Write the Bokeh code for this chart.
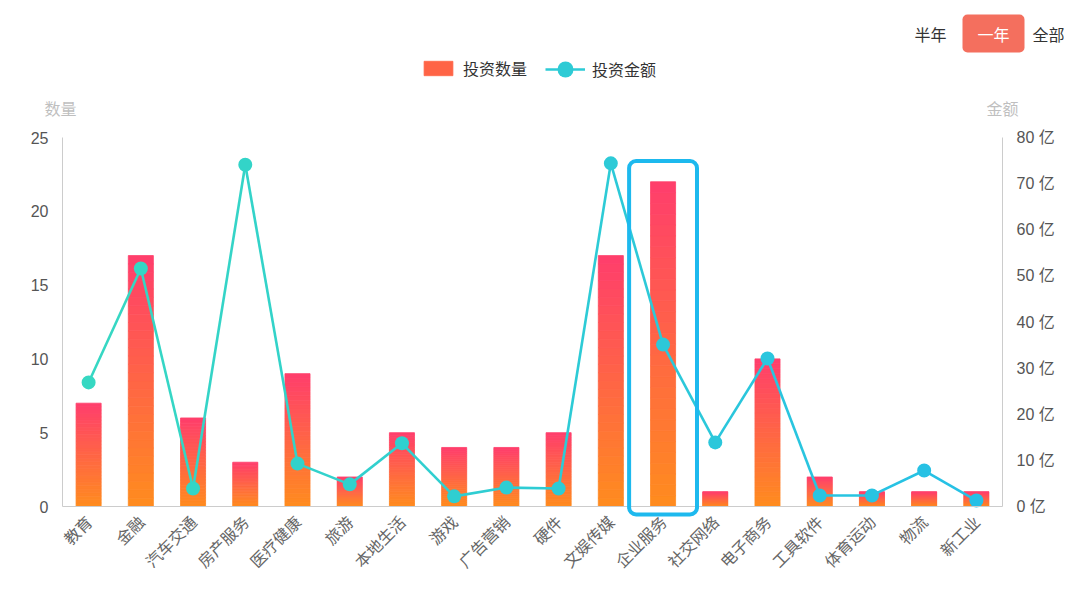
import math
from bokeh.plotting import figure
from bokeh.models import (Range1d, LinearAxis, FixedTicker, Label, BoxAnnotation,
                          Legend, LegendItem)
from bokeh.embed import file_html
from bokeh.resources import INLINE

categories = ["教育", "金融", "汽车交通", "房产服务", "医疗健康", "旅游", "本地生活", "游戏",
              "广告营销", "硬件", "文娱传媒", "企业服务", "社交网络", "电子商务", "工具软件",
              "体育运动", "物流", "新工业"]
counts = [7, 17, 6, 3, 9, 2, 5, 4, 4, 5, 17, 22, 1, 10, 2, 1, 1, 1]
amounts = [26.9, 51.6, 3.9, 74.1, 9.3, 4.8, 13.7, 2.2, 4.1, 3.9, 74.4, 35.1, 13.9, 32.1,
           2.4, 2.4, 7.8, 1.3]
count_ticks = [0, 5, 10, 15, 20, 25]
amount_ticks = [0, 10, 20, 30, 40, 50, 60, 70, 80]
amount_tick_labels = ["0 亿", "10 亿", "20 亿", "30 亿", "40 亿", "50 亿", "60 亿", "70 亿", "80 亿"]
series_names = ["投资数量", "投资金额"]
axis_names = ["数量", "金额"]
periods = ["半年", "一年", "全部"]
highlight = "企业服务"

FONT = "Noto Sans CJK SC"
NUM_FONT = "'Liberation Sans', 'Noto Sans CJK SC'"
W, H = 1064, 575
# plot area (axes box) in page pixels
PL, PR, PT, PB = 62, 1002, 137, 506
CMAX, AMAX = 25, 80


def hx(c):
    return tuple(int(c[i:i + 2], 16) for i in (1, 3, 5))


def lerp(c1, c2, t):
    a, b = hx(c1), hx(c2)
    return "#%02x%02x%02x" % tuple(round(a[i] + (b[i] - a[i]) * t) for i in range(3))


BAR_BOT, BAR_TOP = "#ff8c1e", "#ff3e6c"
LINE_L, LINE_R = "#36d8c2", "#26c0e6"

ncat = len(categories)
cat_px = (PR - PL) / ncat
cnt_px = (PB - PT) / CMAX
pad = PL / cat_px  # categories of padding each side

y0 = -(H - PB) / cnt_px
y1 = CMAX + PT / cnt_px
k_amt = AMAX / CMAX

p = figure(x_range=categories, y_range=Range1d(y0, y1), width=W, height=H,
           output_backend="svg", toolbar_location=None, min_border=0)
p.x_range.range_padding = 2 * pad / ncat
p.x_range.range_padding_units = "percent"
p.outline_line_color = None
p.xgrid.grid_line_color = None
p.ygrid.grid_line_color = None
p.extra_y_ranges = {"amt": Range1d(y0 * k_amt, y1 * k_amt)}


def sx(px):  # page x -> synthetic category coordinate
    return (px - PL) / cat_px


def sy(py):  # page y -> count coordinate
    return (PB - py) / cnt_px


# gradient bars built from slices
N = 30
bx, bb, bt, bc = [], [], [], []
for c, v in zip(categories, counts):
    for k in range(N):
        bx.append(c)
        bb.append(v * k / N)
        bt.append(v * (k + 1) / N)
        bc.append(lerp(BAR_BOT, BAR_TOP, (k + 0.5) / N))
bars = p.vbar(x=bx, bottom=bb, top=bt, width=0.48, fill_color=bc, line_color=bc,
              line_width=0.8)

# line with horizontal gradient
xs, ys, lc = [], [], []
for i in range(ncat - 1):
    xs.append([categories[i], categories[i + 1]])
    ys.append([amounts[i], amounts[i + 1]])
    lc.append(lerp(LINE_L, LINE_R, (i + 0.5) / (ncat - 1)))
line = p.multi_line(xs=xs, ys=ys, line_color=lc, line_width=2.6, y_range_name="amt")
mc = [lerp(LINE_L, LINE_R, i / (ncat - 1)) for i in range(ncat)]
marks = p.scatter(x=categories, y=amounts, size=14, fill_color=mc, line_color=None,
                  y_range_name="amt")

# highlight box
hi = categories.index(highlight) + 0.5
p.add_layout(BoxAnnotation(left=hi - 0.65, right=hi + 0.65, top=23.4, bottom=sy(514),
                           fill_alpha=0, line_color="#1db9ee", line_alpha=1, line_width=4,
                           border_radius=7))

# axes at fixed positions inside the full-size frame
ya = p.yaxis[0]
ya.ticker = FixedTicker(ticks=count_ticks)
ya.fixed_location = 0
ya.bounds = (0, CMAX)
ax_r = LinearAxis(y_range_name="amt", ticker=FixedTicker(ticks=amount_ticks))
ax_r.major_label_overrides = {t: l for t, l in zip(amount_ticks, amount_tick_labels)}
ax_r.fixed_location = ncat
ax_r.bounds = (0, AMAX)
p.add_layout(ax_r, "right")

for ax in (ya, ax_r):
    ax.axis_line_color = "#cccccc"
    ax.major_tick_line_color = None
    ax.minor_tick_line_color = None
    ax.major_label_text_color = "#555555"
    ax.major_label_text_font = NUM_FONT
    ax.major_label_text_font_size = "16px"
    ax.major_label_standoff = 8

xa = p.xaxis[0]
xa.fixed_location = 0
xa.bounds = (0, ncat)
xa.axis_line_color = "#cccccc"
xa.major_tick_line_color = None
xa.minor_tick_line_color = None
xa.major_label_orientation = math.pi / 4
xa.major_label_text_color = "#666666"
xa.major_label_text_font = FONT
xa.major_label_text_font_size = "16px"
xa.major_label_standoff = 6

# axis names
for txt, x in zip(axis_names, [60, 1002]):
    p.add_layout(Label(x=sx(x), y=sy(107), text=txt, text_align="center",
                       text_baseline="middle", text_color="#bfbfbf", text_font=FONT,
                       text_font_size="16px"))

# period buttons
for txt, x, active in zip(periods, [930, 993, 1048], [False, True, False]):
    kw = {}
    if active:
        kw = dict(background_fill_color="#f46f5e", border_radius=5,
                  padding=dict(left=15, right=15, top=7, bottom=7))
    p.add_layout(Label(x=sx(x), y=sy(33), text=txt, text_align="center",
                       text_baseline="middle",
                       text_color="#ffffff" if active else "#333333",
                       text_font=FONT, text_font_size="16px", **kw))

common = dict(orientation="horizontal", label_standoff=7, padding=0, margin=0,
              border_line_color=None, background_fill_alpha=0, label_text_font=FONT,
              label_text_font_size="16px", label_text_color="#333333")
legend_bar = Legend(items=[LegendItem(label=series_names[0], renderers=[bars], index=N // 2)],
                    location=(420, H - 80), glyph_width=36, glyph_height=18, **common)
legend_line = Legend(items=[LegendItem(label=series_names[1], renderers=[line, marks],
                                       index=ncat // 2)],
                     location=(545, H - 89), glyph_width=40, glyph_height=40, **common)
p.add_layout(legend_bar, "center")
p.add_layout(legend_line, "center")

open("out.html", "w").write(file_html(p, INLINE))
